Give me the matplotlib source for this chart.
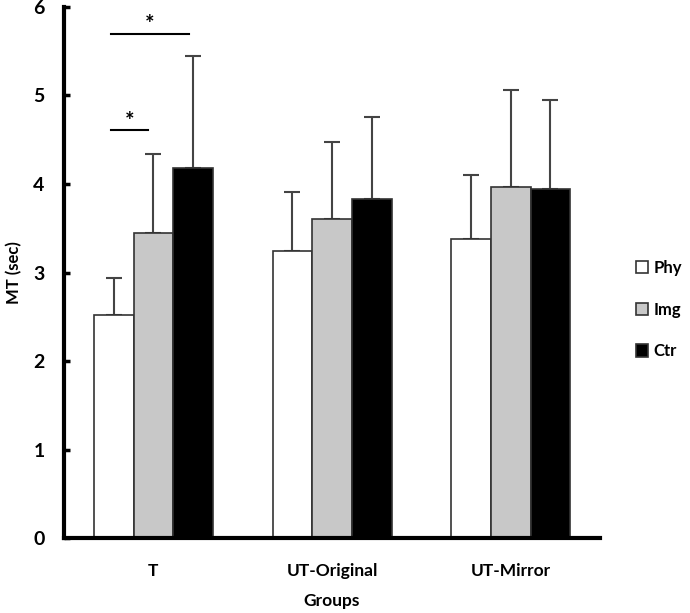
import numpy as np
import matplotlib
matplotlib.use('Agg')
import matplotlib.pyplot as plt
from matplotlib.patches import Patch

plt.rcParams['font.family'] = ['Lato', 'DejaVu Sans']
plt.rcParams['font.weight'] = 'bold'
plt.rcParams['axes.labelweight'] = 'bold'

groups = ['T', 'UT-Original', 'UT-Mirror']
conditions = ['Phy', 'Img', 'Ctr']
means = {
    'Phy': [2.52, 3.24, 3.38],
    'Img': [3.45, 3.60, 3.97],
    'Ctr': [4.18, 3.83, 3.94],
}
sds = {
    'Phy': [0.42, 0.67, 0.72],
    'Img': [0.89, 0.87, 1.09],
    'Ctr': [1.27, 0.93, 1.01],
}
colors = {'Phy': 'white', 'Img': '#c8c8c8', 'Ctr': 'black'}

fig = plt.figure(figsize=(6.9, 6.13), dpi=100)
ax = fig.add_axes([0.0928, 0.1223, 0.7768, 0.8663])

x = np.arange(len(groups))
w = 0.222
for i, c in enumerate(conditions):
    pos = x + (i - 1) * w
    ax.bar(pos, means[c], width=w, color=colors[c], edgecolor='#333333',
           linewidth=1.2, zorder=2)
    ax.errorbar(pos, means[c], yerr=[np.zeros(3), sds[c]], fmt='none',
                ecolor='#444444', elinewidth=1.5, capsize=5.5, capthick=1.5,
                zorder=1)

# significance markers
ax.plot([-0.236, 0.20], [5.70, 5.70], color='black', lw=1.5)
ax.text(-0.02, 5.68, '*', ha='center', va='bottom', fontsize=16)
ax.plot([-0.236, -0.03], [4.61, 4.61], color='black', lw=1.5)
ax.text(-0.135, 4.59, '*', ha='center', va='bottom', fontsize=16)

ax.set_xlim(-0.5, 2.5)
ax.set_ylim(0, 6)
ax.set_xticks(x)
ax.set_xticklabels(groups, fontsize=12.5)
ax.tick_params(axis='x', length=0, pad=18)
ax.tick_params(axis='y', direction='in', length=4, width=2.5, labelsize=14, pad=14)
for sp in ['top', 'right']:
    ax.spines[sp].set_visible(False)
for sp in ['left', 'bottom']:
    ax.spines[sp].set_linewidth(3)
ax.set_ylabel('MT (sec)', fontsize=12, labelpad=8)
ax.set_xlabel('Groups', fontsize=12.5, labelpad=10)

handles = [Patch(facecolor=colors[c], edgecolor='#333333', linewidth=1.2, label=c)
           for c in conditions]
fig.legend(handles=handles, loc='center left', bbox_to_anchor=(0.912, 0.495),
           frameon=False, fontsize=12, handlelength=0.75, handleheight=0.75,
           handletextpad=0.3, labelspacing=1.55, borderaxespad=0)

fig.savefig('out.png', dpi=100)
